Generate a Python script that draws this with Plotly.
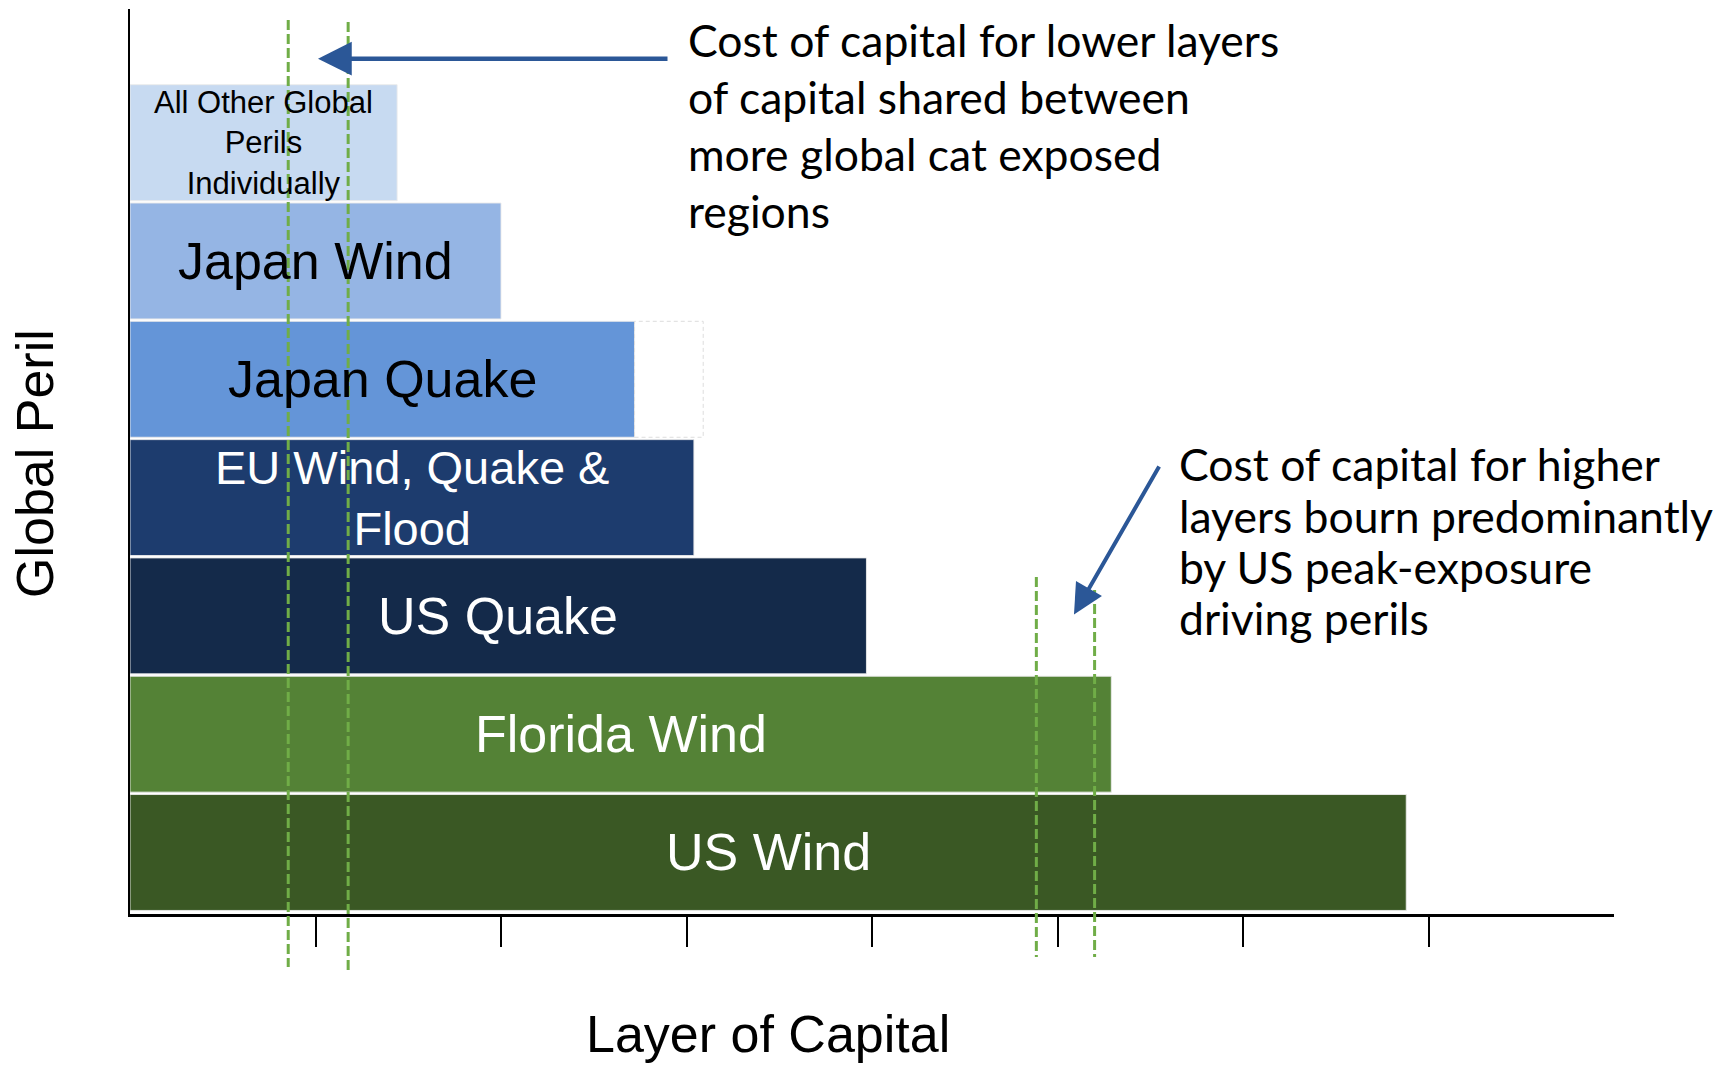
import plotly.graph_objects as go

# ---------------- data ----------------
perils = ["US Wind", "Florida Wind", "US Quake", "EU Wind, Quake & Flood",
          "Japan Quake", "Japan Wind", "All Other Global Perils Individually"]
bar_labels = ["US Wind", "Florida Wind", "US Quake", "EU Wind, Quake &<br>Flood",
              "Japan Quake", "Japan Wind", "All Other Global<br>Perils<br>Individually"]
capital = [6.88, 5.29, 3.97, 3.04, 2.72, 2.00, 1.44]
japan_quake_extension = 3.09
bar_colors = ["#3A5824", "#548236", "#142A4A", "#1D3C6E", "#6495D8", "#95B5E4", "#C7DAF1"]
label_colors = ["white", "white", "white", "white", "black", "black", "black"]
label_sizes = [52, 52, 52, 47, 52, 52, 31]
x_ticks = [1, 2, 3, 4, 5, 6, 7]
lower_layer_lines = [0.853, 1.176]
higher_layer_lines = [4.886, 5.20]

note_lower = ["Cost of capital for lower layers", "of capital shared between",
              "more global cat exposed", "regions"]
note_higher = ["Cost of capital for higher", "layers bourn predominantly",
               "by US peak-exposure", "driving perils"]

# ---------------- layout geometry ----------------
W, H = 1736, 1067
L, R, T, B = 130, 122, 9, 153
X_RANGE = [0, 8]
Y_RANGE = [-0.52, 7.13]


def px(x):
    return (x - L) / (W - L - R)


def py(y):
    return (H - B - y) / (H - T - B)


ARIAL = "Arial, Liberation Sans, sans-serif"
CALIBRI = "Lato, Calibri, sans-serif"

fig = go.Figure()
fig.add_trace(go.Bar(
    x=capital, y=perils, orientation="h", width=0.98,
    marker=dict(color=bar_colors, line=dict(color="rgba(235,235,235,0.9)", width=1)),
    hoverinfo="skip", showlegend=False,
))

annotations = []
for name, lab, val, col, size in zip(perils, bar_labels, capital, label_colors, label_sizes):
    annotations.append(dict(x=val / 2, y=name, xref="x", yref="y", text=lab,
                            showarrow=False, font=dict(family=ARIAL, size=size, color=col),
                            xanchor="center", yanchor="middle", align="center"))

shapes = []
jq = perils.index("Japan Quake")
shapes.append(dict(type="rect", xref="x", yref="y", x0=capital[jq], x1=japan_quake_extension,
                   y0=jq - 0.49, y1=jq + 0.49,
                   line=dict(color="#DDDDDD", width=1, dash="4px,3px"), fillcolor="rgba(0,0,0,0)",
                   layer="above"))
for xv, top, bot in zip(lower_layer_lines, [20, 22], [967, 970]):
    shapes.append(dict(type="line", xref="x", yref="paper", x0=xv, x1=xv, y0=py(top), y1=py(bot),
                       line=dict(color="#70AD47", width=3, dash="10px,4px"), layer="above"))
for xv, top, bot in zip(higher_layer_lines, [577, 590], [957, 957]):
    shapes.append(dict(type="line", xref="x", yref="paper", x0=xv, x1=xv, y0=py(top), y1=py(bot),
                       line=dict(color="#70AD47", width=3, dash="10px,4px"), layer="above"))

# notes
for i, line in enumerate(note_lower):
    annotations.append(dict(x=px(686), y=py(39 + i * 57), xref="paper", yref="paper", text=line,
                            showarrow=False, xanchor="left", yanchor="middle",
                            font=dict(family=CALIBRI, size=44.5, color="black")))
for i, line in enumerate(note_higher):
    annotations.append(dict(x=px(1177), y=py(464 + i * 51), xref="paper", yref="paper", text=line,
                            showarrow=False, xanchor="left", yanchor="middle",
                            font=dict(family=CALIBRI, size=44.5, color="black")))

# arrows
annotations.append(dict(x=px(318), y=py(58.7), xref="paper", yref="paper", text="",
                        showarrow=True, ax=351, ay=0, axref="pixel", ayref="pixel",
                        arrowhead=2, arrowsize=1.5, arrowwidth=4.5, arrowcolor="#2B5797"))
annotations.append(dict(x=px(1074), y=py(614.5), xref="paper", yref="paper", text="",
                        showarrow=True, ax=86, ay=-149.5, axref="pixel", ayref="pixel",
                        arrowhead=2, arrowsize=1.5, arrowwidth=4, arrowcolor="#2B5797"))

# axis titles
annotations.append(dict(x=px(35), y=py(463), xref="paper", yref="paper", text="Global Peril",
                        textangle=-90, showarrow=False, xanchor="center", yanchor="middle",
                        font=dict(family=ARIAL, size=52, color="black")))
annotations.append(dict(x=px(768), y=py(1034), xref="paper", yref="paper", text="Layer of Capital",
                        showarrow=False, xanchor="center", yanchor="middle",
                        font=dict(family=ARIAL, size=52, color="black")))

fig.update_layout(
    width=W, height=H, margin=dict(l=L, r=R, t=T, b=B, pad=0),
    paper_bgcolor="white", plot_bgcolor="white",
    annotations=annotations, shapes=shapes, bargap=0.02,
    xaxis=dict(range=X_RANGE, showgrid=False, zeroline=False, showline=True, linecolor="black",
               linewidth=2.5, ticks="outside", ticklen=30, tickwidth=1.5, tickcolor="black",
               tickvals=x_ticks, showticklabels=False, fixedrange=True),
    yaxis=dict(range=Y_RANGE, showgrid=False, zeroline=False, showline=True, linecolor="black",
               linewidth=2, ticks="", showticklabels=False, type="category",
               categoryorder="array", categoryarray=perils, fixedrange=True),
)

fig.write_html("out.html")
